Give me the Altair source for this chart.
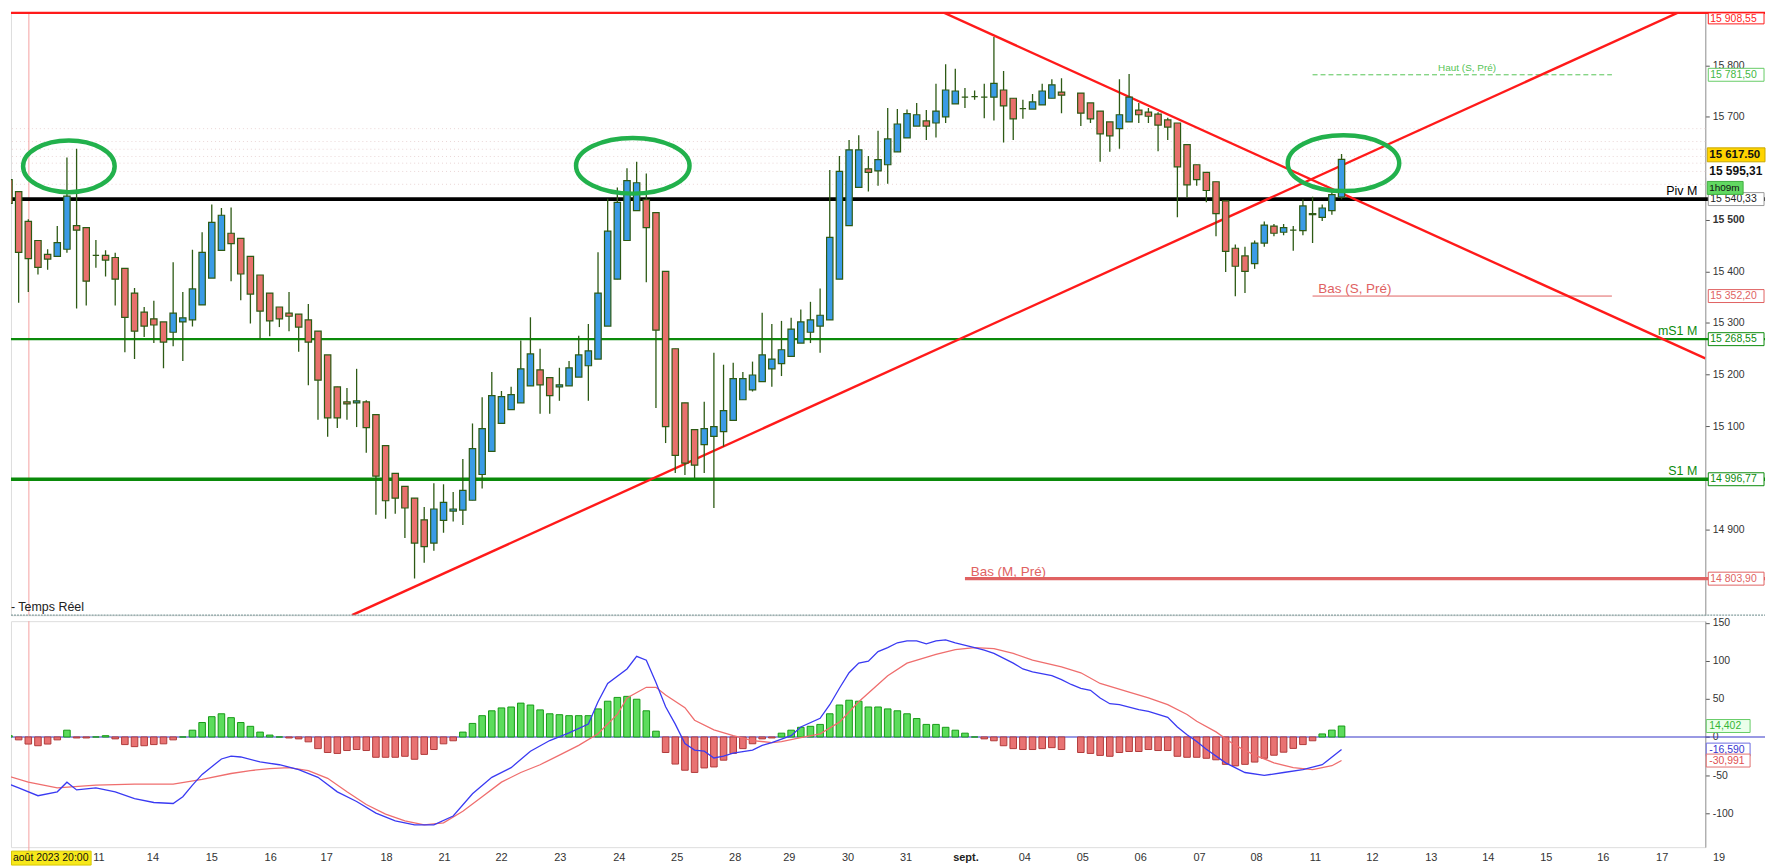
import altair as alt
import pandas as pd

# ---------------- data ----------------
candle_idx = [i for i in range(140) if i != 111]
opens = [15592,15578,15555,15497,15460,15433,15429,15443,15489,15485,
         15431,15431,15427,15406,15358,15321,15308,15302,15282,15302,
         15306,15335,15387,15441,15474,15464,15429,15393,15358,15331,
         15319,15317,15306,15284,15238,15176,15147,15145,15147,15122,
         15062,15008,14983,14960,14918,14873,14917,14935,14937,14956,
         15006,15051,15105,15132,15145,15178,15209,15194,15176,15178,
         15195,15217,15230,15294,15385,15460,15518,15539,15514,15400,
         15250,15145,15093,15064,15080,15089,15111,15151,15170,15186,
         15211,15221,15235,15261,15282,15294,15306,15385,15489,15563,
         15599,15595,15607,15632,15659,15682,15692,15688,15700,15725,
         15738,15739,15738,15738,15752,15736,15716,15715,15723,15736,15748,
         15746,15727,15711,15690,15677,15690,15713,15709,15705,15694,
         15688,15646,15607,15592,15574,15537,15445,15430,15415,15455,
         15488,15476,15480,15479,15512,15505,15518,15544]
highs = [15597,15603,15555,15501,15460,15443,15488,15621,15638,15485,
         15461,15441,15436,15406,15368,15331,15343,15302,15418,15360,
         15442,15476,15530,15523,15524,15464,15429,15393,15358,15331,
         15360,15317,15337,15284,15238,15176,15174,15211,15150,15122,
         15062,15008,14983,14960,14943,14989,14987,14972,15036,15105,
         15156,15205,15168,15176,15266,15311,15250,15194,15213,15226,
         15275,15298,15437,15541,15563,15600,15613,15590,15514,15400,
         15250,15145,15093,15147,15242,15219,15223,15205,15225,15320,
         15298,15304,15310,15326,15341,15367,15597,15624,15655,15664,
         15624,15673,15717,15715,15714,15727,15713,15764,15802,15793,
         15756,15751,15764,15855,15789,15736,15733,15744,15764,15773,15775,
         15746,15727,15711,15690,15773,15783,15727,15717,15709,15698,
         15688,15646,15607,15592,15574,15537,15452,15448,15460,15497,
         15492,15492,15488,15540,15545,15530,15556,15628]
lows = [15563,15457,15339,15360,15394,15403,15429,15436,15328,15334,
        15407,15390,15334,15243,15230,15273,15261,15212,15255,15226,
        15293,15335,15387,15441,15381,15344,15299,15269,15274,15292,
        15284,15244,15179,15112,15079,15096,15112,15098,15048,14928,
        14920,14930,14883,14804,14835,14858,14893,14915,14908,14956,
        14979,15051,15105,15132,15145,15178,15124,15124,15149,15178,
        15195,15149,15230,15294,15385,15460,15518,15379,15135,15067,
        15009,15005,14999,15009,14941,15060,15111,15151,15167,15186,
        15176,15197,15235,15261,15261,15242,15306,15385,15489,15563,
        15555,15566,15570,15632,15659,15682,15655,15660,15688,15725,
        15717,15733,15697,15693,15650,15655,15696,15715,15723,15736,15707,
        15682,15688,15613,15632,15638,15690,15688,15688,15633,15655,
        15505,15543,15566,15534,15468,15399,15352,15358,15405,15448,
        15468,15470,15440,15470,15455,15498,15510,15540]
closes = [15569,15532,15437,15425,15408,15424,15456,15546,15480,15381,
          15431,15422,15385,15311,15284,15294,15296,15263,15319,15310,
          15366,15437,15495,15509,15454,15395,15356,15323,15304,15308,
          15313,15292,15263,15189,15116,15116,15143,15149,15097,15003,
          14955,14960,14941,14873,14866,14939,14952,14939,14975,15056,
          15095,15159,15157,15161,15211,15240,15180,15159,15180,15213,
          15238,15246,15358,15478,15534,15576,15572,15485,15286,15099,
          15043,15028,15024,15095,15099,15130,15192,15192,15199,15238,
          15230,15248,15288,15302,15306,15315,15466,15594,15636,15636,
          15592,15617,15657,15686,15706,15704,15682,15711,15752,15750,
          15738,15739,15738,15765,15721,15696,15716,15729,15750,15762,15742,
          15707,15696,15667,15663,15704,15738,15704,15701,15684,15680,
          15603,15568,15578,15557,15512,15439,15410,15400,15455,15490,
          15474,15485,15480,15527,15510,15523,15549,15617.5]
histogram = [6.4,1.7,-3.8,-9.3,-11.5,-9.3,-3.8,8.9,-1.3,-1.3,
             0,1.7,-2.5,-10,-12.7,-11.5,-10,-9,-3.8,0,
             8.9,19,26.7,30.5,25.4,19,14,6.4,2.5,0,
             -1.3,-2.5,-6.4,-15.3,-20.4,-21.6,-17.8,-16.5,-17.8,-26.7,
             -26.7,-26.7,-25.4,-29.3,-22.9,-16.5,-9,-5,6.4,17.8,
             28,34.4,38.2,39.4,44.5,42,35.6,30.5,29.3,28,
             28,28,36.9,47,52,53.4,49.6,34.4,7.6,-20.4,
             -35.6,-43.7,-46.6,-40.7,-39.4,-30.5,-21.6,-15.3,-8.9,-2.5,
             -1.3,5,8.9,12.7,14,16.5,30.5,42,48.3,47,
             39.4,39.4,36.9,34.4,30.5,24.2,16.5,16.5,12.7,8.9,
             5,0,-2.5,-5,-11.5,-15.3,-16.5,-16.5,-15.3,-14,-16.5,
             -20.4,-21.6,-24.2,-25.4,-20.4,-19.1,-19.1,-16.5,-17.8,-17.8,
             -25.4,-26.7,-26.7,-28,-30,-36,-38,-36,-33,-28,
             -24,-20,-15,-10,-5,4,9,14.402]

macd_idx = [0,2,4,6,7,8,10,12,14,16,18,19,20,21,22,23,24,25,27,29,31,33,35,37,39,41,43,45,47,49,
            51,53,55,57,59,61,62,63,65,66,67,68,69,70,71,72,73,74,75,76,78,79,80,82,83,85,86,87,88,89,
            90,91,92,93,94,95,96,97,98,99,101,102,103,105,106,107,109,110,111,112,113,114,115,116,118,119,
            121,122,123,124,125,127,129,131,133,135,137,139]
macd_line = [-56.9,-67.0,-77.2,-72.1,-59.4,-69.6,-67.0,-72.1,-81.0,-86.1,-87.4,-78.5,-63.2,-49.2,-39.1,
             -28.9,-25.1,-26.3,-32.7,-36.5,-42.9,-53.0,-72.1,-84.8,-100.1,-110.3,-115.4,-115.4,-103.9,-74.7,
             -53.0,-40.3,-18.7,-4.7,5.5,16.9,46.2,70.3,89.4,106,100.9,71.6,39.8,16.9,-8.5,-17.3,-18.7,-27.6,
             -25.1,-21.2,-17.3,-11.1,-7.3,1.7,13.1,24.5,42.4,64.0,84.4,97.1,99.6,112.3,117.4,123.8,126.3,126.3,
             122.5,126.3,127.6,123.8,117.4,114.2,109.8,97.1,89.4,85.6,80.5,75.4,69.0,63.9,61.4,51.3,43.7,42.4,
             36.0,33.5,25.8,13.1,2.9,-6.0,-16.2,-34.0,-46.7,-50.5,-46.7,-42.9,-36.5,-16.59]
signal_idx = [0,3,6,10,14,18,21,24,26,28,30,32,34,36,38,40,42,44,46,48,50,52,54,56,58,60,62,64,65,67,68,
              69,71,72,74,76,78,80,81,83,85,87,89,92,94,97,99,101,103,105,107,110,112,114,117,119,121,123,124,
              126,128,130,132,134,136,138,139]
signal_line = [-48.0,-59.4,-67.0,-63.2,-61.9,-61.9,-55.6,-48.0,-44.1,-41.6,-40.3,-44.1,-54.3,-72.1,-88.7,
               -101.4,-110.3,-115.4,-112.8,-97.6,-78.5,-59.4,-46.7,-36.5,-23.8,-11.1,4.2,29.6,51.3,65.3,65.3,
               55.1,38.5,22.0,9.3,1.7,-4.7,-7.3,-6.0,-0.9,4.2,19.5,46.2,80.5,97.1,108.5,114.9,117.4,116.1,
               109.8,100.9,92.0,84.4,70.3,58.9,51.3,42.4,29.6,20.7,6.7,-11.1,-23.8,-34.0,-40.3,-42.9,-37.8,-30.991]

day_labels = ["11","14","15","16","17","18","21","22","23","24","25","28","29","30","31","sept.",
              "04","05","06","07","08","11","12","13","14","15","16","17","19"]
day_pos = [10.3,15.9,22.0,28.1,33.9,40.1,46.1,52.0,58.1,64.2,70.2,76.2,81.8,87.9,93.9,100.1,
           106.2,112.2,118.2,124.3,130.2,136.3,142.2,148.3,154.2,160.2,166.1,172.2,178.1]

full_levels = [15908.55, 15540.33, 15268.55, 14996.77]
level_tags = ["", "Piv M", "mS1 M", "S1 M"]
haut_s = 15781.50
bas_s = 15352.20
bas_m = 14803.90
week_from, week_to = 136.0, 167.0
month_from = 100.0

trend_x1 = [97.87, 36.52]
trend_p1 = [15901.5, 14733]
trend_x2 = [176.67, 173.78]
trend_p2 = [15231.2, 15901.5]

circle_x = [7.2, 65.6, 139.2]
circle_p = [15604, 15605, 15610]
circle_rx = [46, 57, 56]
circle_ry = [26, 28, 28]

dotted_levels = [15677, 15652, 15637, 15623, 15610, 15594, 15569]

top_tag_text = "15 908,55"
tag_vals = [15781.50, 15540.33, 15352.20, 15268.55, 14996.77, 14803.90]
tag_text = ["15 781,50", "15 540,33", "15 352,20", "15 268,55", "14 996,77", "14 803,90"]
last_val, last_text = 15617.50, "15 617.50"
avg_val, avg_text = 15595.31, "15 595,31"
timer_val = 15562
timer_text = "1h09m"
macd_tag_vals = [14.402, -16.590, -30.991]
macd_tag_text = ["14,402", "-16,590", "-30,991"]
cursor_i = 3.06
cursor_text = "août 2023 20:00"

# ---------------- styles ----------------
FONT = "Liberation Sans"
W, H1, H2 = 1702, 605, 227
EDGE = "#2d5a14"
UP, DOWN = "#3a9be6", "#e8706c"
RED = "#ff1a1a"
GREEN = "#0a8a0a"
SALMON = "#e06262"
XDOM = [1.206, 176.67]
YDOM = [14733, 15901.5]
MDOM = [-144.8, 152.2]

xs = alt.Scale(domain=XDOM, nice=False, zero=False)
ys = alt.Scale(domain=YDOM, nice=False, zero=False, clamp=True)
ms = alt.Scale(domain=MDOM, nice=False, zero=False)

yaxis = alt.Axis(orient="right", values=[14900, 15100, 15200, 15300, 15400, 15500, 15700, 15800],
                 labelExpr="replace(format(datum.value, ','), ',', ' ')", grid=False,
                 domainColor="#9a9a9a", tickColor="#555", tickSize=4, labelColor="#333",
                 labelFont=FONT, labelFontSize=10.5, labelPadding=3, title=None,
                 labelFontWeight={"condition": {"test": "datum.value == 15500", "value": "bold"},
                                  "value": "normal"})
maxis = alt.Axis(orient="right", values=[150, 100, 50, 0, -50, -100], labelExpr="toString(datum.value)",
                 grid=False, domainColor="#9a9a9a", tickColor="#555", tickSize=4, labelColor="#333",
                 labelFont=FONT, labelFontSize=10.5, labelPadding=3, title=None)


def X(f):
    return alt.X(f, type="quantitative", scale=xs, axis=None)


def Y(f):
    return alt.Y(f, type="quantitative", scale=ys, axis=yaxis)


def M(f):
    return alt.Y(f, type="quantitative", scale=ms, axis=maxis)


def box(wd, ht):
    return "M-1,-%.4fH1V%.4fH-1Z" % (ht / wd, ht / wd)


def ellipse(rx, ry):
    r = ry / rx
    return "M-1,0A1,%.4f,0,1,1,1,0A1,%.4f,0,1,1,-1,0Z" % (r, r)


one = pd.DataFrame({"a": [0]})

# ---------------- main price panel ----------------
cdf = pd.DataFrame({"i": candle_idx, "o": opens, "h": highs, "l": lows, "c": closes})

dotted = alt.Chart(pd.DataFrame({"v": dotted_levels})).mark_rule(
    color="#ead6d6", strokeDash=[1, 3], strokeWidth=1).encode(y=Y("v"))

lev_df = pd.DataFrame({"v": full_levels, "name": level_tags,
                       "col": [RED, "#000000", GREEN, GREEN], "w": [2.2, 3.8, 2.2, 3.6]})
levels = alt.Chart(lev_df).mark_rule().encode(
    y=Y("v"), x=alt.value(0), x2=alt.value(W + 60),
    color=alt.Color("col:N", scale=None), strokeWidth=alt.StrokeWidth("w:Q", scale=None))
level_text = alt.Chart(lev_df).transform_filter("datum.name != ''").mark_text(
    align="right", baseline="alphabetic", dy=-4, font=FONT, fontSize=12.5).encode(
    x=alt.value(W - 8), y=Y("v"), text="name:N", color=alt.Color("col:N", scale=None))

part_df = pd.DataFrame({"v": [bas_s, haut_s], "i1": [week_from, week_from], "i2": [week_to, week_to]})
bas_s_line = alt.Chart(part_df.iloc[[0]]).mark_rule(color=SALMON, strokeWidth=1).encode(
    x=X("i1"), x2="i2", y=Y("v"))
haut_line = alt.Chart(part_df.iloc[[1]]).mark_rule(color="#55c455", strokeWidth=1, strokeDash=[5, 3]).encode(
    x=X("i1"), x2="i2", y=Y("v"))
bas_m_line = alt.Chart(pd.DataFrame({"v": [bas_m], "i1": [month_from]})).mark_rule(
    color=SALMON, strokeWidth=3.2).encode(x=X("i1"), x2=alt.value(W + 60), y=Y("v"))

lbl_df = pd.DataFrame({"v": [bas_s, bas_m], "i": [week_from + 0.6, month_from + 0.6],
                       "t": ["Bas (S, Pré)", "Bas (M, Pré)"]})
bas_text = alt.Chart(lbl_df).mark_text(align="left", baseline="alphabetic", dy=-3, font=FONT,
                                       fontSize=13.5, color=SALMON).encode(x=X("i"), y=Y("v"), text="t:N")
haut_text = alt.Chart(pd.DataFrame({"v": [haut_s], "i": [(week_from + week_to) / 2 + 0.5],
                                    "t": ["Haut (S, Pré)"]})).mark_text(
    align="center", baseline="alphabetic", dy=-4, font=FONT, fontSize=10, color="#55c455").encode(
    x=X("i"), y=Y("v"), text="t:N")

trend = alt.Chart(pd.DataFrame({"i1": trend_x1, "p1": trend_p1, "i2": trend_x2, "p2": trend_p2})).mark_rule(
    color=RED, strokeWidth=2.4, clip=True).encode(x=X("i1"), y=Y("p1"), x2="i2", y2="p2")

wicks = alt.Chart(cdf).mark_rule(color=EDGE, strokeWidth=1.3, clip=True).encode(
    x=X("i"), y=Y("l"), y2="h")
bodies = alt.Chart(cdf).transform_calculate(x1="datum.i - 0.33", x2="datum.i + 0.33").mark_rect(
    stroke=EDGE, strokeWidth=1.2, clip=True).encode(
    x=X("x1"), x2="x2", y=Y("o"), y2="c",
    fill=alt.condition("datum.c >= datum.o", alt.value(UP), alt.value(DOWN)))

ell_df = pd.DataFrame({"i": circle_x, "p": circle_p,
                       "shape": [ellipse(a, b) for a, b in zip(circle_rx, circle_ry)],
                       "size": [(2 * a) ** 2 for a in circle_rx]})
ellipses = alt.Chart(ell_df).mark_point(filled=False, opacity=1, strokeWidth=4.5, color="#22b14c",
                                        clip=True).encode(
    x=X("i"), y=Y("p"), shape=alt.Shape("shape:N", scale=None), size=alt.Size("size:Q", scale=None))

cursor_main = alt.Chart(pd.DataFrame({"i": [cursor_i]})).mark_rule(color="#f5a0a0", strokeWidth=1).encode(
    x=X("i"))
separator = alt.Chart(one).mark_rule(color="#86a0a0", strokeWidth=1.2, strokeDash=[2, 1]).encode(
    y=alt.value(H1), x=alt.value(0), x2=alt.value(W + 60))
temps = alt.Chart(pd.DataFrame({"t": ["- Temps Réel"]})).mark_text(
    align="left", baseline="middle", font=FONT, fontSize=12.5, color="#222").encode(
    x=alt.value(0), y=alt.value(H1 - 8), text="t:N")

top_box = alt.Chart(one).mark_point(shape=box(56, 11), size=56 ** 2, filled=True, opacity=1,
                                    fill="white", stroke=RED, strokeWidth=1).encode(
    x=alt.value(W + 31), y=alt.value(5.5))
top_txt = alt.Chart(pd.DataFrame({"t": [top_tag_text]})).mark_text(
    align="left", baseline="middle", font=FONT, fontSize=10.5, color=RED).encode(
    x=alt.value(W + 5), y=alt.value(6), text="t:N")

tag_col = ["#44b844", "#222222", SALMON, GREEN, GREEN, SALMON]
tag_stroke = ["#66cc66", "#9a9a9a", SALMON, GREEN, GREEN, SALMON]
tag_df = pd.DataFrame({"v": tag_vals, "t": tag_text, "col": tag_col, "st": tag_stroke})
tag_box = alt.Chart(tag_df).mark_point(shape=box(56, 13), size=56 ** 2, filled=True, opacity=1,
                                       fill="white", strokeWidth=1).encode(
    x=alt.value(W + 31), y=Y("v"), stroke=alt.Stroke("st:N", scale=None))
tag_txt = alt.Chart(tag_df).mark_text(align="left", baseline="middle", font=FONT, fontSize=10.5).encode(
    x=alt.value(W + 5), y=Y("v"), text="t:N", color=alt.Color("col:N", scale=None))

avg_df = pd.DataFrame({"v": [avg_val], "t": [avg_text]})
avg_box = alt.Chart(avg_df).mark_point(shape=box(58, 14), size=58 ** 2, filled=True, opacity=1,
                                       fill="white", stroke="white", strokeWidth=1).encode(
    x=alt.value(W + 31), y=Y("v"))
avg_txt = alt.Chart(avg_df).mark_text(align="left", baseline="middle", font=FONT, fontSize=12,
                                      fontWeight="bold", color="#111").encode(
    x=alt.value(W + 4), y=Y("v"), text="t:N")
last_df = pd.DataFrame({"v": [last_val], "t": [last_text]})
last_box = alt.Chart(last_df).mark_point(shape=box(58, 14), size=58 ** 2, filled=True, opacity=1,
                                         fill="#ffd400", stroke="#c9a800", strokeWidth=1, yOffset=-4.5).encode(
    x=alt.value(W + 31), y=Y("v"))
last_txt = alt.Chart(last_df).mark_text(align="left", baseline="middle", font=FONT, fontSize=11.5,
                                        fontWeight="bold", color="#111", dy=-4.5).encode(
    x=alt.value(W + 4), y=Y("v"), text="t:N")
timer_df = pd.DataFrame({"v": [timer_val], "t": [timer_text]})
timer_box = alt.Chart(timer_df).mark_point(shape=box(36, 13), size=36 ** 2, filled=True, opacity=1,
                                           fill="#62d862", stroke="#3fae3f", strokeWidth=1).encode(
    x=alt.value(W + 20), y=Y("v"))
timer_txt = alt.Chart(timer_df).mark_text(align="left", baseline="middle", font=FONT, fontSize=10,
                                          color="#111").encode(x=alt.value(W + 4), y=Y("v"), text="t:N")

main = alt.layer(dotted, cursor_main, levels, bas_s_line, haut_line, bas_m_line, trend, wicks, bodies,
                 ellipses, level_text, bas_text, haut_text, separator, temps, top_box, top_txt,
                 tag_box, tag_txt, avg_box, avg_txt, last_box, last_txt, timer_box, timer_txt).properties(
    width=W, height=H1)

# ---------------- MACD panel ----------------
hdf = pd.DataFrame({"i": candle_idx, "h": histogram})
zero = alt.Chart(pd.DataFrame({"v": [0]})).mark_rule(color="#3535c8", strokeWidth=1.2).encode(
    y=M("v"), x=alt.value(0), x2=alt.value(W + 60))
bars = alt.Chart(hdf).transform_calculate(x1="datum.i - 0.34", x2="datum.i + 0.34", z="0").mark_rect(
    strokeWidth=1, clip=True).encode(
    x=X("x1"), x2="x2", y=M("z"), y2="h",
    fill=alt.condition("datum.h >= 0", alt.value("#5cdc5c"), alt.value("#e87272")),
    stroke=alt.condition("datum.h >= 0", alt.value("#169a16"), alt.value("#b03a3a")))
macd_l = alt.Chart(pd.DataFrame({"i": macd_idx, "v": macd_line})).mark_line(
    color="#3a3af2", strokeWidth=1.3, clip=True).encode(x=X("i"), y=M("v"))
sig_l = alt.Chart(pd.DataFrame({"i": signal_idx, "v": signal_line})).mark_line(
    color="#ef6e6e", strokeWidth=1.3, clip=True).encode(x=X("i"), y=M("v"))
cursor_m = alt.Chart(pd.DataFrame({"i": [cursor_i]})).mark_rule(color="#f5a0a0", strokeWidth=1).encode(
    x=X("i"), y=alt.value(0), y2=alt.value(H2 + 4))

mt_df = pd.DataFrame({"v": macd_tag_vals, "t": macd_tag_text,
                      "col": ["#35b535", "#3535d0", "#e05050"], "f": ["#eaffea", "#ffffff", "#ffffff"],
                      "st": ["#66cc66", "#6a6ae0", "#e07070"]})
mt_box = alt.Chart(mt_df).mark_point(shape=box(44, 13), size=44 ** 2, filled=True, opacity=1,
                                     strokeWidth=1).encode(
    x=alt.value(W + 23), y=M("v"), fill=alt.Fill("f:N", scale=None), stroke=alt.Stroke("st:N", scale=None))
mt_txt = alt.Chart(mt_df).mark_text(align="left", baseline="middle", font=FONT, fontSize=10.5).encode(
    x=alt.value(W + 4), y=M("v"), text="t:N", color=alt.Color("col:N", scale=None))

LY = H2 + 11
ddf = pd.DataFrame({"i": day_pos, "t": day_labels})
days = alt.Chart(ddf).transform_filter("datum.t != 'sept.'").mark_text(
    align="center", baseline="middle", font=FONT, fontSize=11, color="#333").encode(
    x=X("i"), y=alt.value(LY), text="t:N")
month = alt.Chart(ddf).transform_filter("datum.t == 'sept.'").mark_text(
    align="center", baseline="middle", font=FONT, fontSize=11, fontWeight="bold", color="#222").encode(
    x=X("i"), y=alt.value(LY), text="t:N")
cur_box = alt.Chart(one).mark_point(shape=box(80, 14), size=80 ** 2, filled=True, opacity=1,
                                    fill="#f7e81a", stroke="#d8c800", strokeWidth=1).encode(
    x=alt.value(40.5), y=alt.value(LY))
cur_txt = alt.Chart(pd.DataFrame({"t": [cursor_text]})).mark_text(
    align="left", baseline="middle", font=FONT, fontSize=10.5, color="#111").encode(
    x=alt.value(2), y=alt.value(LY), text="t:N")

macd = alt.layer(zero, cursor_m, bars, sig_l, macd_l, mt_box, mt_txt, days, month, cur_box, cur_txt).properties(
    width=W, height=H2)

chart = alt.vconcat(main, macd, spacing=0).properties(padding=0, background="white").configure_view(
    stroke=None).configure(font=FONT)

chart.save("out.html", embed_options={"renderer": "svg", "actions": False})
